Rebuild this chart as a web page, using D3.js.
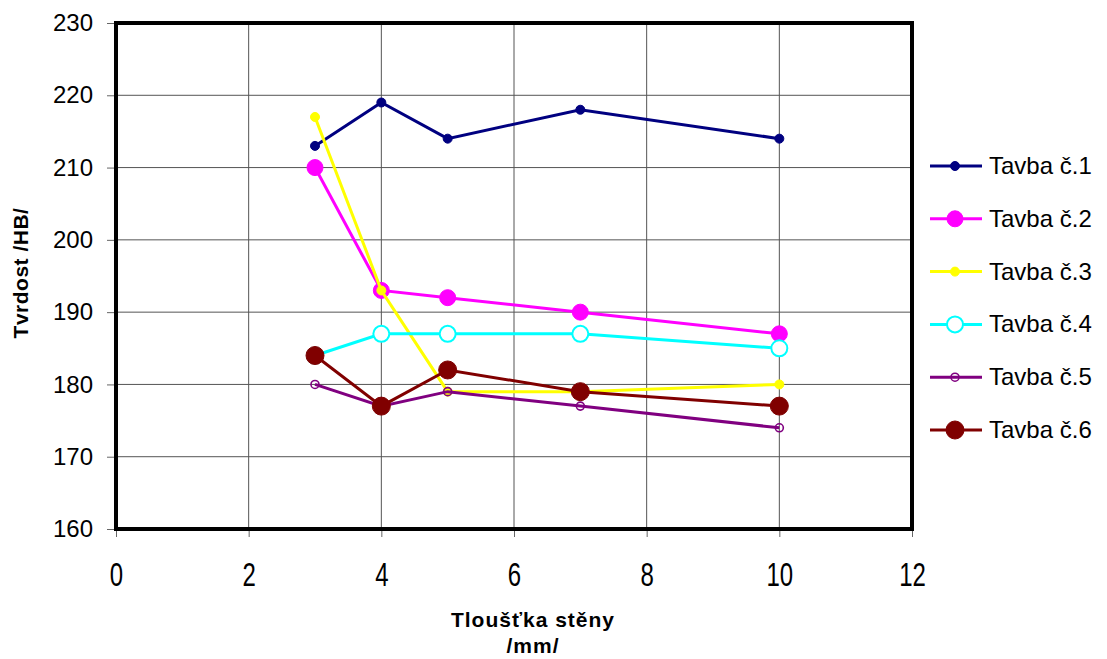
<!DOCTYPE html>
<html>
<head>
<meta charset="utf-8">
<script src="https://d3js.org/d3.v7.min.js"></script>
<style>
  body { margin: 0; background: #fff; }
  text { font-family: "Liberation Sans", Arial, sans-serif; }
</style>
</head>
<body>
<div id="chart"></div>
<script>

// wall thickness (mm)
var thickness = [3, 4, 5, 7, 10];

// hardness values per melt (HB)
var tavba1 = [213, 219, 214, 218, 214];
var tavba2 = [210, 193, 192, 190, 187];
var tavba3 = [217, 193, 179, 179, 180];
var tavba4 = [184, 187, 187, 187, 185];
var tavba5 = [180, 177, 179, 177, 174];
var tavba6 = [184, 177, 182, 179, 177];

var seriesNames = ["Tavba č.1", "Tavba č.2", "Tavba č.3", "Tavba č.4", "Tavba č.5", "Tavba č.6"];

var xTicks = [0, 2, 4, 6, 8, 10, 12];
var yTicks = [160, 170, 180, 190, 200, 210, 220, 230];

function makeChart() {

  var width = 1107, height = 659;
  var plot = {left: 116, right: 912, top: 23, bottom: 529};

  // marker styles for each series
  var styles = [
    {color: "#000080", r: 4.5, fill: true},
    {color: "#FF00FF", r: 8, fill: true},
    {color: "#FFFF00", r: 4.5, fill: true},
    {color: "#00FFFF", r: 8, fill: "#fff", sw: 2},
    {color: "#800080", r: 4, fill: "none", sw: 1.6},
    {color: "#800000", r: 9, fill: true}
  ];

  var allValues = [tavba1, tavba2, tavba3, tavba4, tavba5, tavba6];
  var series = allValues.map(function(vals, i) {
    return {
      name: seriesNames[i],
      style: styles[i],
      points: vals.map(function(v, j) { return {x: thickness[j], y: v}; })
    };
  });

  var x = d3.scaleLinear().domain([0, 12]).range([plot.left, plot.right]);
  var y = d3.scaleLinear().domain([160, 230]).range([plot.bottom, plot.top]);

  var svg = d3.select("#chart").append("svg")
    .attr("width", width)
    .attr("height", height);

  // grid lines
  svg.append("g").selectAll("line.v")
    .data(xTicks.slice(1, -1))
    .enter().append("line")
    .attr("x1", function(d) { return x(d); })
    .attr("x2", function(d) { return x(d); })
    .attr("y1", plot.top)
    .attr("y2", plot.bottom)
    .attr("stroke", "#555")
    .attr("stroke-width", 1);

  svg.append("g").selectAll("line.h")
    .data(yTicks.slice(1, -1))
    .enter().append("line")
    .attr("x1", plot.left)
    .attr("x2", plot.right)
    .attr("y1", function(d) { return y(d); })
    .attr("y2", function(d) { return y(d); })
    .attr("stroke", "#555")
    .attr("stroke-width", 1);

  // y axis
  var yAxis = d3.axisLeft(y).tickValues(yTicks).tickSize(9).tickPadding(14);
  var gy = svg.append("g")
    .attr("transform", "translate(" + plot.left + ",0)")
    .call(yAxis);
  gy.select(".domain").remove();
  gy.selectAll("line").attr("stroke", "#666");
  gy.selectAll("text")
    .style("font-size", "24px")
    .attr("fill", "#000");

  // x axis (labels are drawn a bit taller, like the original)
  var xAxis = d3.axisBottom(x).tickValues(xTicks).tickSize(8).tickPadding(0);
  var gx = svg.append("g")
    .attr("transform", "translate(0," + plot.bottom + ")")
    .call(xAxis);
  gx.select(".domain").remove();
  gx.selectAll("line").attr("stroke", "#666");
  gx.selectAll("text")
    .style("font-size", "24px")
    .attr("fill", "#000")
    .attr("dy", null)
    .attr("y", 0)
    .attr("transform", "translate(0,57) scale(1,1.35)");

  // frame
  svg.append("rect")
    .attr("x", plot.left)
    .attr("y", plot.top)
    .attr("width", plot.right - plot.left)
    .attr("height", plot.bottom - plot.top)
    .attr("fill", "none")
    .attr("stroke", "#000")
    .attr("stroke-width", 4);

  var line = d3.line()
    .x(function(d) { return x(d.x); })
    .y(function(d) { return y(d.y); });

  // series, line then markers, in order
  series.forEach(function(s) {
    var g = svg.append("g");
    g.append("path")
      .datum(s.points)
      .attr("d", line)
      .attr("fill", "none")
      .attr("stroke", s.style.color)
      .attr("stroke-width", 3);
    g.selectAll("circle")
      .data(s.points)
      .enter().append("circle")
      .attr("cx", function(d) { return x(d.x); })
      .attr("cy", function(d) { return y(d.y); })
      .attr("r", s.style.r)
      .attr("fill", s.style.fill === true ? s.style.color : s.style.fill)
      .attr("stroke", s.style.color)
      .attr("stroke-width", s.style.sw || 1);
  });

  // legend
  var legend = svg.append("g").selectAll("g")
    .data(series)
    .enter().append("g")
    .attr("transform", function(d, i) { return "translate(930," + (166 + i * 52.8) + ")"; });

  legend.append("line")
    .attr("x1", 0).attr("x2", 52)
    .attr("y1", 0).attr("y2", 0)
    .attr("stroke", function(d) { return d.style.color; })
    .attr("stroke-width", 3);

  legend.append("circle")
    .attr("cx", 25)
    .attr("cy", 0)
    .attr("r", function(d) { return d.style.r; })
    .attr("fill", function(d) { return d.style.fill === true ? d.style.color : d.style.fill; })
    .attr("stroke", function(d) { return d.style.color; })
    .attr("stroke-width", function(d) { return d.style.sw || 1; });

  legend.append("text")
    .attr("x", 59)
    .attr("y", 8)
    .style("font-size", "24px")
    .text(function(d) { return d.name; });

  // axis titles
  svg.append("text")
    .attr("transform", "translate(28,273) rotate(-90)")
    .attr("text-anchor", "middle")
    .style("font-size", "21px")
    .style("font-weight", "bold")
    .style("letter-spacing", "0.5px")
    .text("Tvrdost /HB/");

  svg.append("text")
    .attr("x", 533)
    .attr("y", 627)
    .attr("text-anchor", "middle")
    .style("font-size", "21px")
    .style("font-weight", "bold")
    .style("letter-spacing", "1px")
    .text("Tloušťka stěny");

  svg.append("text")
    .attr("x", 533)
    .attr("y", 653)
    .attr("text-anchor", "middle")
    .style("font-size", "21px")
    .style("font-weight", "bold")
    .style("letter-spacing", "1px")
    .text("/mm/");
}

makeChart();
</script>
</body>
</html>
